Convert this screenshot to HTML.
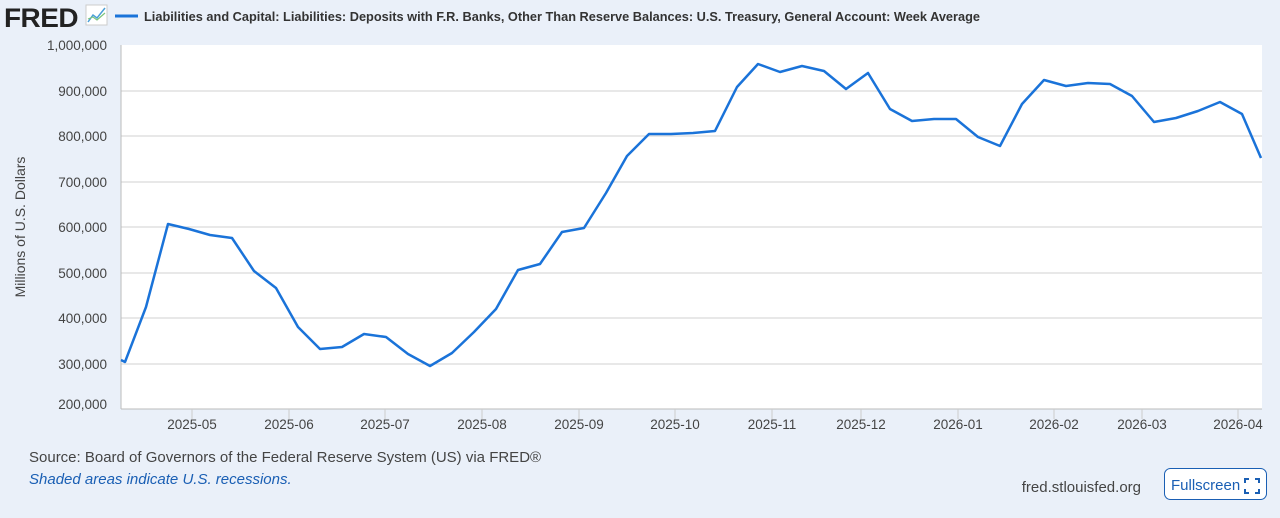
<!DOCTYPE html>
<html><head><meta charset="utf-8"><style>
body{margin:0;background:#eaf0f9;font-family:"Liberation Sans",sans-serif;}
</style></head><body>
<svg width="1280" height="513" xmlns="http://www.w3.org/2000/svg" font-family="Liberation Sans, sans-serif">
<rect width="1280" height="513" fill="#eaf0f9"/>
<text x="4" y="27" font-size="27" font-weight="bold" fill="#222" letter-spacing="-0.5" textLength="74" lengthAdjust="spacingAndGlyphs">FRED</text>
<rect x="86" y="5" width="21" height="20" fill="#fff" stroke="#ccc"/>
<polyline points="88,22 93,15 97,18 105,8" fill="none" stroke="#4a9fd8" stroke-width="1.5"/>
<polyline points="88,19 93,17 97,20 105,13" fill="none" stroke="#7cc47c" stroke-width="1.2"/>
<line x1="115" y1="16" x2="138" y2="16" stroke="#1a73d9" stroke-width="3"/>
<text x="144" y="21" font-size="13" font-weight="bold" fill="#333" textLength="836" lengthAdjust="spacingAndGlyphs">Liabilities and Capital: Liabilities: Deposits with F.R. Banks, Other Than Reserve Balances: U.S. Treasury, General Account: Week Average</text>
<rect x="121" y="45" width="1141" height="364" fill="#fff"/>
<g stroke="#d0d0d0" stroke-width="1">
<line x1="121" y1="91" x2="1262" y2="91"/><line x1="121" y1="136" x2="1262" y2="136"/>
<line x1="121" y1="182" x2="1262" y2="182"/><line x1="121" y1="227" x2="1262" y2="227"/>
<line x1="121" y1="273" x2="1262" y2="273"/><line x1="121" y1="318" x2="1262" y2="318"/>
<line x1="121" y1="364" x2="1262" y2="364"/>
</g>
<line x1="121" y1="409" x2="1262" y2="409" stroke="#bbb"/>
<line x1="121" y1="45" x2="121" y2="409" stroke="#bbb"/>
<g font-size="13.5" fill="#444" text-anchor="end">
<text x="107" y="50">1,000,000</text><text x="107" y="96">900,000</text><text x="107" y="141">800,000</text>
<text x="107" y="187">700,000</text><text x="107" y="232">600,000</text><text x="107" y="278">500,000</text>
<text x="107" y="323">400,000</text><text x="107" y="369">300,000</text><text x="107" y="409">200,000</text>
</g>
<text transform="translate(25,227) rotate(-90)" font-size="14" fill="#444" text-anchor="middle">Millions of U.S. Dollars</text>
<g stroke="#ccc"><line x1="192" y1="409" x2="192" y2="419"/><line x1="289" y1="409" x2="289" y2="419"/><line x1="385" y1="409" x2="385" y2="419"/><line x1="482" y1="409" x2="482" y2="419"/><line x1="579" y1="409" x2="579" y2="419"/><line x1="675" y1="409" x2="675" y2="419"/><line x1="772" y1="409" x2="772" y2="419"/><line x1="861" y1="409" x2="861" y2="419"/><line x1="958" y1="409" x2="958" y2="419"/><line x1="1054" y1="409" x2="1054" y2="419"/><line x1="1142" y1="409" x2="1142" y2="419"/><line x1="1238" y1="409" x2="1238" y2="419"/></g>
<g font-size="13.5" fill="#444" text-anchor="middle">
<text x="192" y="429">2025-05</text><text x="289" y="429">2025-06</text><text x="385" y="429">2025-07</text>
<text x="482" y="429">2025-08</text><text x="579" y="429">2025-09</text><text x="675" y="429">2025-10</text>
<text x="772" y="429">2025-11</text><text x="861" y="429">2025-12</text><text x="958" y="429">2026-01</text>
<text x="1054" y="429">2026-02</text><text x="1142" y="429">2026-03</text><text x="1238" y="429">2026-04</text>
</g>
<polyline fill="none" stroke="#1a73d9" stroke-width="2.5" stroke-linejoin="round" points="121,360 125,362 146,307 168,224 189,229 210,235 232,238 254,271 276,288 298,327 320,349 342,347 364,334 386,337 408,354 430,366 452,353 474,332 496,309 518,270 540,264 562,232 584,228 606,193 627,156 649,134 671,134 693,133 715,131 737,87 758,64 780,72 802,66 824,71 846,89 868,73 890,109 912,121 934,119 956,119 978,137 1000,146 1022,104 1044,80 1066,86 1088,83 1110,84 1132,96 1154,122 1176,118 1198,111 1220,102 1242,114 1261,158"/>
<text x="29" y="462" font-size="15" fill="#444">Source: Board of Governors of the Federal Reserve System (US) via FRED®</text>
<text x="29" y="484" font-size="15" fill="#1a5fb4" font-style="italic">Shaded areas indicate U.S. recessions.</text>
<text x="1141" y="492" font-size="15" fill="#444" text-anchor="end">fred.stlouisfed.org</text>
<rect x="1164.5" y="468.5" width="102" height="31" rx="6" fill="#fff" stroke="#1a5fb4"/>
<text x="1171" y="490" font-size="15" fill="#1a5fb4">Fullscreen</text>
<path d="M1245,483 v-4 h4 M1255,479 h4 v4 M1259,489 v4 h-4 M1249,493 h-4 v-4" fill="none" stroke="#1a5fb4" stroke-width="2"/>
</svg>
</body></html>
